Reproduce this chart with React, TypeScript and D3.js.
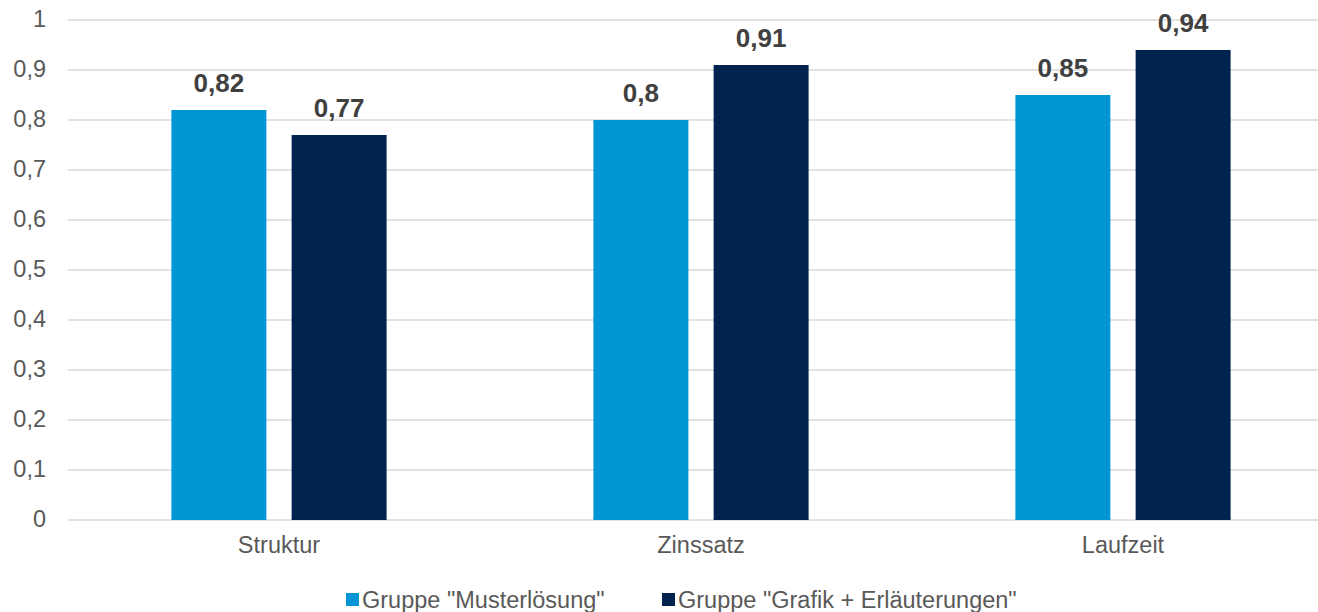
import React from "react";
import * as d3 from "d3";

const categories = ["Struktur", "Zinssatz", "Laufzeit"];
const seriesNames = ['Gruppe "Musterlösung"', 'Gruppe "Grafik + Erläuterungen"'];
const musterloesung = [0.82, 0.8, 0.85];
const grafikErlaeuterungen = [0.77, 0.91, 0.94];
const yTicks = [0, 0.1, 0.2, 0.3, 0.4, 0.5, 0.6, 0.7, 0.8, 0.9, 1];
const colors = ["#0096D6", "#00234F"];

const W = 1318;
const H = 612;
const fmt = (v: number) => String(Math.round(v * 100) / 100).replace(".", ",");

export default function App() {
  const x = d3.scaleBand<string>().domain(categories).range([68, 1334]);
  const xs = d3
    .scaleBand<number>()
    .domain([0, 1])
    .range([0, x.bandwidth()])
    .paddingInner(0.21)
    .paddingOuter(0.86);
  const y = d3.scaleLinear().domain([0, 1]).range([520, 20]);
  const series = [musterloesung, grafikErlaeuterungen];
  const font = "'Liberation Sans', Arial, sans-serif";

  return (
    <svg
      width={W}
      height={H}
      style={{ position: "absolute", left: 0, top: 0, background: "#fff" }}
      fontFamily={font}
    >
      {/* grid + y axis labels */}
      {yTicks.map(t => (
        <g key={t}>
          <line x1={68} x2={1334} y1={y(t)} y2={y(t)} stroke="#D9D9D9" strokeWidth={1.5} />
          <text x={46} y={y(t) - 1} dy="0.35em" textAnchor="end" fontSize={23.5} fill="#595959">
            {fmt(t)}
          </text>
        </g>
      ))}

      {/* bars */}
      {series.map((vals, si) =>
        vals.map((v, ci) => {
          const bx = (x(categories[ci]) || 0) + (xs(si) || 0);
          return (
            <g key={si + "-" + ci}>
              <rect x={bx} y={y(v)} width={xs.bandwidth()} height={y(0) - y(v)} fill={colors[si]} />
              <text
                x={bx + xs.bandwidth() / 2}
                y={y(v) - 18}
                textAnchor="middle"
                fontSize={26}
                fontWeight="bold"
                fill="#404040"
              >
                {fmt(v)}
              </text>
            </g>
          );
        })
      )}

      {/* category labels */}
      {categories.map(c => (
        <text
          key={c}
          x={(x(c) || 0) + x.bandwidth() / 2}
          y={545}
          dy="0.35em"
          textAnchor="middle"
          fontSize={23.5}
          fill="#595959"
        >
          {c}
        </text>
      ))}

      {/* legend */}
      {seriesNames.map((n, i) => {
        const lx = [346, 662][i];
        return (
          <g key={n}>
            <rect x={lx} y={593} width={13} height={13} fill={colors[i]} />
            <text x={lx + 16} y={600} dy="0.35em" fontSize={23.5} fill="#595959">
              {n}
            </text>
          </g>
        );
      })}
    </svg>
  );
}
